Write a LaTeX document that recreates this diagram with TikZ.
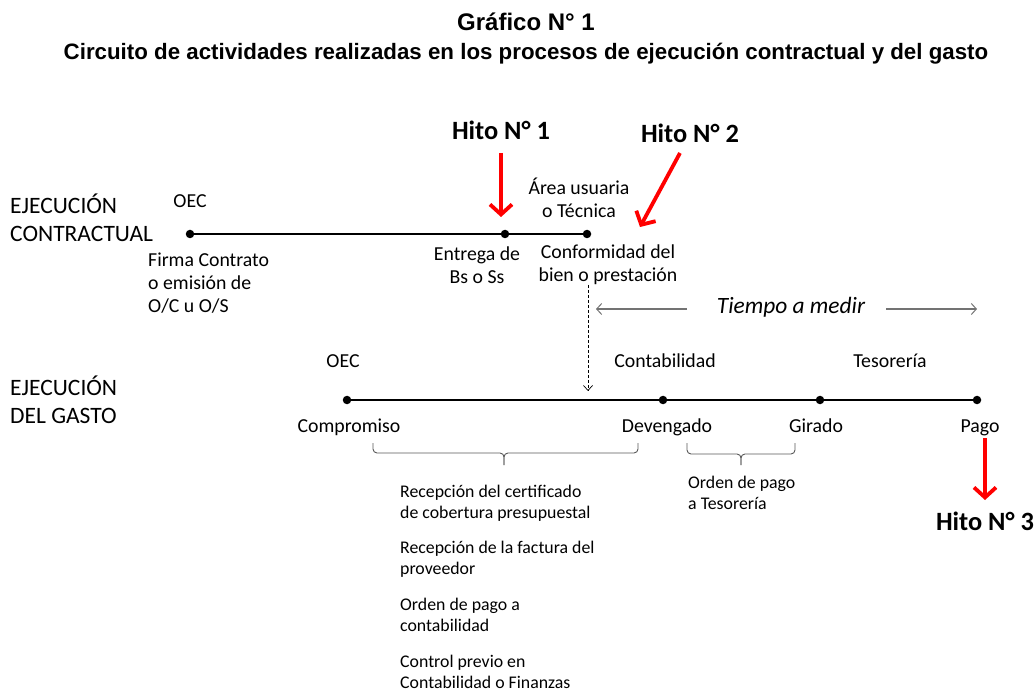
\documentclass[tikz,border=0pt]{standalone}
\usepackage{fontspec}
\setmainfont{Carlito}
\newfontfamily\arialf{Liberation Sans}
\usetikzlibrary{arrows.meta,calc}
\tikzset{
  lbl/.style={inner sep=0pt, font=\fontsize{19.8}{23}\selectfont, align=center},
  one/.style={inner sep=0pt, font=\fontsize{19.8}{23}\selectfont, anchor=base},
  lbll/.style={inner sep=0pt, font=\fontsize{19.8}{23}\selectfont, align=left, anchor=west},
  side/.style={inner sep=0pt, font=\fontsize{23.5}{27.5}\selectfont, align=left, anchor=west},
  small/.style={inner sep=0pt, font=\fontsize{17.8}{21}\selectfont, align=left, anchor=west},
  hito/.style={inner sep=0pt, font=\fontsize{26.4}{30}\selectfont\bfseries, anchor=base},
  dot/.style={circle, fill=black, inner sep=0pt, minimum size=8.5pt},
  tl/.style={line width=2.5pt},
  red arrow/.style={draw=red, line width=3.8pt, -{Straight Barb[length=10pt,width=22pt,line width=3.8pt]}},
  gray arrow/.style={draw=black!55, line width=1.3pt, -{Straight Barb[length=5pt,width=11pt,line width=1pt]}},
  bracket/.style={draw=black!65, line width=0.9pt, rounded corners=4pt},
}
\begin{document}
\begin{tikzpicture}[x=1pt,y=-1pt]
\useasboundingbox (0,0) rectangle (1036,692);
% titles
\node[inner sep=0pt, anchor=base, font=\arialf\fontsize{24}{28}\selectfont\bfseries] (t1) at (526,31) {Gráfico N° 1};
\node[inner sep=0pt, anchor=base, font=\arialf\fontsize{22.3}{26}\selectfont\bfseries] (t2) at (526,60) {Circuito de actividades realizadas en los procesos de ejecución contractual y del gasto};
% side labels
\node[side] (ec) at (10,218) {EJECUCIÓN\\CONTRACTUAL};
\node[side] (eg) at (10,400) {EJECUCIÓN\\DEL GASTO};
% top line
\node[dot] (a1) at (190,234) {};
\node[dot] (a2) at (505,234) {};
\node[dot] (a3) at (587,234) {};
\draw[tl] (a1) -- (a2) -- (a3);
\node[one] (oec1) at (190,208) {OEC};
\node[lbll] (firma) at (148,283) {Firma Contrato\\o emisión de\\O/C u O/S};
\node[lbl] (entrega) at (477,265) {Entrega de\\Bs o Ss};
\node[lbl] (area) at (579,198) {Área usuaria\\o Técnica};
\node[lbl] (conf) at (608,265) {Conformidad del\\bien o prestación};
% hitos
\node[hito] (h1) at (501,140) {Hito N° 1};
\coordinate (h1e) at (501,217);
\draw[red arrow] ($(h1.base)+(0,13)$) -- (h1e);
\node[hito] (h2) at (690,143) {Hito N° 2};
\coordinate (h2e) at (640,227);
\draw[red arrow] ($(h2.base)+(-10,10)$) -- (h2e);
% dashed arrow
\coordinate (ds) at (588,285);
\coordinate (de) at (588,391);
\draw[dashed, dash pattern=on 3pt off 2pt, line width=0.7pt, -{Straight Barb[length=5pt,width=9pt,line width=0.7pt]}] (ds) -- (de);
% tiempo a medir
\node[inner sep=0pt, anchor=base, font=\fontsize{23.4}{27}\selectfont\itshape] (tm) at (791,314) {Tiempo a medir};
\coordinate (tla) at (687,309);
\coordinate (tl1) at (596,309);
\coordinate (tra) at (886,309);
\coordinate (tr1) at (977,309);
\draw[gray arrow] (tla) -- (tl1);
\draw[gray arrow] (tra) -- (tr1);
% bottom line
\node[dot] (b1) at (347,400) {};
\node[dot] (b2) at (663,400) {};
\node[dot] (b3) at (820,400) {};
\node[dot] (b4) at (977,400) {};
\draw[tl] (b1) -- (b2) -- (b3) -- (b4);
\node[one] (oec2) at (343,368) {OEC};
\node[one] (cont) at (665,368) {Contabilidad};
\node[one] (teso) at (890,368) {Tesorería};
\node[one] (comp) at (349,432) {Compromiso};
\node[one] (dev) at (667,432) {Devengado};
\node[one] (gir) at (816,432) {Girado};
\node[one] (pago) at (980,432) {Pago};
% brackets
\coordinate (br1a) at (373,443);
\coordinate (br1b) at (638,443);
\coordinate (br1t) at (504,453);
\draw[bracket] (br1a) |- (br1t) -- ++(0,12);
\draw[bracket] (br1b) |- (br1t) -- ++(0,12);
\coordinate (br2a) at (687,443);
\coordinate (br2b) at (795,443);
\coordinate (br2t) at (741,454);
\draw[bracket] (br2a) |- (br2t) -- ++(0,11);
\draw[bracket] (br2b) |- (br2t) -- ++(0,11);
\node[small] (l1) at (400,503) {Recepción del certificado\\de cobertura presupuestal};
\node[small] (l2) at (400,559) {Recepción de la factura del\\proveedor};
\node[small] (l3) at (400,615) {Orden de pago a\\contabilidad};
\node[small] (l4) at (400,672) {Control previo en\\Contabilidad o Finanzas};
\node[small] (l5) at (688,493) {Orden de pago\\a Tesorería};
% hito 3
\node[hito] (h3) at (985,530) {Hito N° 3};
\draw[red arrow] ($(pago.base)+(5,6)$) -- ($(h3.base)+(0,-30)$);
\end{tikzpicture}
\end{document}
